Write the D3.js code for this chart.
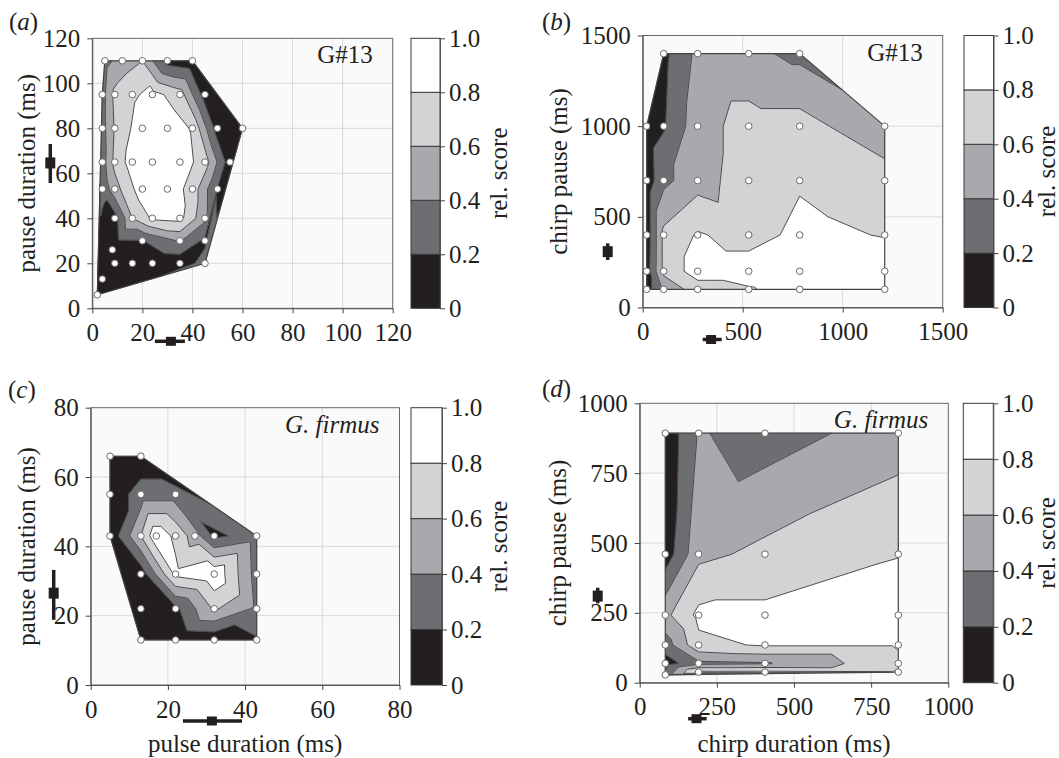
<!DOCTYPE html>
<html>
<head>
<meta charset="utf-8">
<script src="https://cdn.jsdelivr.net/npm/d3@7"></script>
<style>
  body { margin: 0; background: #fff; }
  svg text { font-family: "Liberation Serif", "Times New Roman", serif; fill: #231f20; }
</style>
</head>
<body>
<div id="chart"></div>
<script>
// Score bands (rel. score)
const bandEdges = [0.2, 0.4, 0.6, 0.8];
const bandColours = ["#231f20", "#6d6e71", "#a7a9ac", "#d1d3d4", "#ffffff"];
const scoreTicks = [0, 0.2, 0.4, 0.6, 0.8, 1.0];

// Panel a: G#13, pulse duration vs pause duration
const aPulse = [5, 12, 20, 30, 40,
  4, 9, 16, 24, 35, 45,
  4, 9, 20, 30, 40, 50, 60,
  4, 9, 16, 24, 35, 45, 55,
  4, 9, 20, 30, 40, 50,
  9, 16, 24, 35, 45,
  20, 35, 45,
  8,
  9, 16, 24, 35, 45,
  4, 2];
const aPause = [110, 110, 110, 110, 110,
  95, 95, 95, 95, 95, 95,
  80, 80, 80, 80, 80, 80, 80,
  65, 65, 65, 65, 65, 65, 65,
  53, 53, 53, 53, 53, 53,
  40, 40, 40, 40, 40,
  30, 30, 30,
  26,
  20, 20, 20, 20, 20,
  13, 6];
const aScore = [0.33, 0.5, 0.6, 0.12, 0.05,
  0.32, 0.65, 0.76, 0.87, 0.7, 0.1,
  0.32, 0.62, 0.93, 0.92, 0.78, 0.1, 0.05,
  0.3, 0.66, 0.9, 0.96, 0.92, 0.7, 0.08,
  0.25, 0.52, 0.92, 0.94, 0.72, 0.19,
  0.12, 0.6, 0.83, 0.86, 0.45,
  0.19, 0.42, 0.15,
  0.02,
  0.02, 0.02, 0.03, 0.05, 0.3,
  0.02, 0.05];
const aTicks = [0, 20, 40, 60, 80, 100, 120];
const aSongX = [31.4, 25, 37];   // mean, low, high
const aSongY = [64.6, 55.7, 73];

// Panel b: G#13, chirp duration vs chirp pause
const bChirp = [105, 275, 530, 785,
  20, 105, 275, 530, 785, 1210,
  20, 105, 275, 530, 785, 1210,
  20, 105, 275, 530, 785, 1210,
  20, 105, 275, 530, 785, 1210,
  20, 105, 275, 530, 785, 1210];
const bPause = [1400, 1400, 1400, 1400,
  1000, 1000, 1000, 1000, 1000, 1000,
  700, 700, 700, 700, 700, 700,
  400, 400, 400, 400, 400, 400,
  200, 200, 200, 200, 200, 200,
  100, 100, 100, 100, 100, 100];
const bScore = [0.15, 0.45, 0.45, 0.35,
  0.1, 0.18, 0.52, 0.68, 0.68, 0.45,
  0.08, 0.35, 0.52, 0.7, 0.78, 0.7,
  0.08, 0.65, 0.82, 0.72, 0.85, 0.79,
  0.1, 0.65, 0.9, 0.9, 0.95, 0.92,
  0.1, 0.45, 0.7, 0.78, 0.9, 0.9];
const bTicks = [0, 500, 1000, 1500];
const bSongX = [342, 300, 395];
const bSongY = [308, 262, 354];

// Panel c: G. firmus, pulse duration vs pause duration
const cPulse = [5, 13,
  5, 13, 22,
  5, 13, 17, 22, 27, 32, 43,
  13, 22, 32, 43,
  13, 22, 32, 43,
  13, 22, 32, 43];
const cPause = [66, 66,
  55, 55, 55,
  43, 43, 43, 43, 43, 43, 43,
  32, 32, 32, 32,
  22, 22, 22, 22,
  13, 13, 13, 13];
const cScore = [0.05, 0.05,
  0.05, 0.3, 0.3,
  0.05, 0.6, 0.95, 0.75, 0.5, 0.15, 0.3,
  0.08, 0.85, 0.96, 0.32,
  0.05, 0.15, 0.63, 0.36,
  0.02, 0.02, 0.05, 0.18];
const cTicks = [0, 20, 40, 60, 80];
const cSongX = [31.4, 23.9, 39.2];
const cSongY = [26.5, 18.8, 33.2];

// Panel d: G. firmus, chirp duration vs chirp pause
const dChirp = [83, 191, 406, 838,
  83, 191, 406, 838,
  83, 191, 406, 838,
  83, 191, 406, 838,
  83, 191, 406, 838,
  191, 406, 838,
  83];
const dPause = [893, 893, 893, 893,
  460, 460, 460, 460,
  242, 242, 242, 242,
  135, 135, 135, 135,
  69, 69, 69, 69,
  38, 38, 38,
  28];
const dScore = [0.05, 0.42, 0.3, 0.5,
  0.08, 0.55, 0.65, 0.79,
  0.55, 0.85, 0.85, 0.95,
  0.3, 0.75, 0.82, 0.82,
  0.1, 0.35, 0.38, 0.75,
  0.85, 0.85, 0.82,
  0.3];
const dTicks = [0, 250, 500, 750, 1000];
const dSongX = [184, 157, 217];
const dSongY = [310, 284, 340];

// Panel layout
const panels = [
  {letter: "a", species: "G#13", italic: false, xs: aPulse, ys: aPause, score: aScore,
   xTicks: aTicks, yTicks: aTicks, songX: aSongX, songY: aSongY,
   left: 92.3, right: 392.7, top: 38.3, bottom: 308.3, barX: 411, barW: 29,
   yTitle: "pause duration (ms)", yTitleX: 27, xTitle: null,
   labelX: 9, labelY: 30, markXOff: 33, markYOff: 42, scoreX: 499},
  {letter: "b", species: "G#13", italic: false, xs: bChirp, ys: bPause, score: bScore,
   xTicks: bTicks, yTicks: bTicks, songX: bSongX, songY: bSongY,
   left: 642.7, right: 942.7, top: 35.5, bottom: 307.5, barX: 964, barW: 29.5,
   yTitle: "chirp pause (ms)", yTitleX: 559, xTitle: null,
   labelX: 542, labelY: 30, markXOff: 32, markYOff: 35, scoreX: 1047},
  {letter: "c", species: "G. firmus", italic: true, xs: cPulse, ys: cPause, score: cScore,
   xTicks: cTicks, yTicks: cTicks, songX: cSongX, songY: cSongY,
   left: 90.7, right: 399.5, top: 407.7, bottom: 685, barX: 411, barW: 31,
   yTitle: "pause duration (ms)", yTitleX: 27, xTitle: "pulse duration (ms)",
   labelX: 8, labelY: 398, markXOff: 36, markYOff: 37, scoreX: 499},
  {letter: "d", species: "G. firmus", italic: true, xs: dChirp, ys: dPause, score: dScore,
   xTicks: dTicks, yTicks: dTicks, songX: dSongX, songY: dSongY,
   left: 639.7, right: 948.3, top: 403.3, bottom: 682.7, barX: 963.3, barW: 30,
   yTitle: "chirp pause (ms)", yTitleX: 558, xTitle: "chirp duration (ms)",
   labelX: 542, labelY: 397, markXOff: 36, markYOff: 42, scoreX: 1047}
];

const fontSize = 25;

const svg = d3.select("#chart").append("svg")
  .attr("width", 1059)
  .attr("height", 758);

// Keep the part of a polygon above (or below) a level, values linear along edges
function clipLevel(poly, level, above) {
  const out = [];
  for (let i = 0; i < poly.length; i++) {
    const a = poly[i], b = poly[(i + 1) % poly.length];
    const ina = above ? a.v >= level : a.v <= level;
    const inb = above ? b.v >= level : b.v <= level;
    if (ina) out.push(a);
    if (ina !== inb) {
      const t = (level - a.v) / (b.v - a.v);
      out.push({x: a.x + t * (b.x - a.x), y: a.y + t * (b.y - a.y), v: level});
    }
  }
  return out;
}

function styleAxis(sel) {
  sel.attr("font-size", fontSize).attr("font-family", "Liberation Serif, serif");
  sel.select(".domain").attr("stroke", "#555");
  sel.selectAll(".tick line").attr("stroke", "#444");
  sel.selectAll(".tick text").attr("fill", "#231f20");
}

function drawPanel(p) {
  const xMax = p.xTicks[p.xTicks.length - 1], yMax = p.yTicks[p.yTicks.length - 1];
  const x = d3.scaleLinear().domain([0, xMax]).range([p.left, p.right]);
  const y = d3.scaleLinear().domain([0, yMax]).range([p.bottom, p.top]);
  const g = svg.append("g").attr("class", "panel");

  // Plot background and grid
  g.append("rect")
    .attr("x", p.left).attr("y", p.top)
    .attr("width", p.right - p.left).attr("height", p.bottom - p.top)
    .attr("fill", "#fafafa");
  g.append("g").selectAll("line")
    .data(p.xTicks.filter(t => t > 0 && t < xMax))
    .join("line")
      .attr("x1", d => x(d)).attr("x2", d => x(d))
      .attr("y1", p.top).attr("y2", p.bottom)
      .attr("stroke", "#d9d9d9").attr("stroke-width", 1);
  g.append("g").selectAll("line")
    .data(p.yTicks.filter(t => t > 0 && t < yMax))
    .join("line")
      .attr("x1", p.left).attr("x2", p.right)
      .attr("y1", d => y(d)).attr("y2", d => y(d))
      .attr("stroke", "#d9d9d9").attr("stroke-width", 1);

  // Triangulate the measured points
  const pts = p.xs.map((d, i) => [x(d), y(p.ys[i])]);
  const delaunay = d3.Delaunay.from(pts);
  const tri = delaunay.triangles;

  const bandPaths = bandColours.map(() => []);
  const linePath = [];
  for (let t = 0; t < tri.length; t += 3) {
    const poly = [tri[t], tri[t + 1], tri[t + 2]]
      .map(i => ({x: pts[i][0], y: pts[i][1], v: p.score[i]}));
    bandColours.forEach((c, b) => {
      let piece = poly;
      if (b > 0) piece = clipLevel(piece, bandEdges[b - 1], true);
      if (b < bandEdges.length && piece.length) piece = clipLevel(piece, bandEdges[b], false);
      if (piece.length >= 3) {
        bandPaths[b].push("M" + piece.map(q => q.x.toFixed(2) + "," + q.y.toFixed(2)).join("L") + "Z");
      }
    });
    bandEdges.forEach(level => {
      const cross = [];
      for (let k = 0; k < 3; k++) {
        const a = poly[k], b = poly[(k + 1) % 3];
        if ((a.v >= level) !== (b.v >= level)) {
          const s = (level - a.v) / (b.v - a.v);
          cross.push([a.x + s * (b.x - a.x), a.y + s * (b.y - a.y)]);
        }
      }
      if (cross.length === 2) {
        linePath.push("M" + cross[0].join(",") + "L" + cross[1].join(","));
      }
    });
  }

  // Filled bands
  g.append("g").selectAll("path")
    .data(bandPaths)
    .join("path")
      .attr("d", d => d.join(""))
      .attr("fill", (d, i) => bandColours[i])
      .attr("stroke", (d, i) => bandColours[i])
      .attr("stroke-width", 0.6)
      .attr("stroke-linejoin", "round");

  // Contour lines
  g.append("path")
    .attr("d", linePath.join(""))
    .attr("fill", "none")
    .attr("stroke", "#4a4a4c")
    .attr("stroke-width", 1);

  // Hull outline
  g.append("path")
    .attr("d", delaunay.renderHull())
    .attr("fill", "none")
    .attr("stroke", "#444")
    .attr("stroke-width", 1.2);

  // Measured points
  g.append("g").selectAll("circle")
    .data(pts)
    .join("circle")
      .attr("cx", d => d[0]).attr("cy", d => d[1])
      .attr("r", 3.3)
      .attr("fill", "#fff")
      .attr("stroke", "#6a6a6a")
      .attr("stroke-width", 1);

  // Frame
  g.append("rect")
    .attr("x", p.left).attr("y", p.top)
    .attr("width", p.right - p.left).attr("height", p.bottom - p.top)
    .attr("fill", "none").attr("stroke", "#666").attr("stroke-width", 1);

  // Axes
  g.append("g")
    .attr("transform", `translate(0,${p.bottom})`)
    .call(d3.axisBottom(x).tickValues(p.xTicks).tickFormat(d3.format("d"))
      .tickSize(5).tickSizeOuter(0).tickPadding(10))
    .call(styleAxis);
  g.append("g")
    .attr("transform", `translate(${p.left},0)`)
    .call(d3.axisLeft(y).tickValues(p.yTicks).tickFormat(d3.format("d"))
      .tickSize(5).tickSizeOuter(0).tickPadding(7))
    .call(styleAxis);

  // Natural song markers (mean and range)
  const mx = p.bottom + p.markXOff;
  g.append("line")
    .attr("x1", x(p.songX[1])).attr("x2", x(p.songX[2]))
    .attr("y1", mx).attr("y2", mx)
    .attr("stroke", "#231f20").attr("stroke-width", 3.5);
  g.append("rect")
    .attr("x", x(p.songX[0]) - 5).attr("y", mx - 4.5)
    .attr("width", 10).attr("height", 9)
    .attr("fill", "#231f20");
  const my = p.left - p.markYOff;
  g.append("line")
    .attr("x1", my).attr("x2", my)
    .attr("y1", y(p.songY[1])).attr("y2", y(p.songY[2]))
    .attr("stroke", "#231f20").attr("stroke-width", 3.5);
  g.append("rect")
    .attr("x", my - 5).attr("y", y(p.songY[0]) - 5.5)
    .attr("width", 10).attr("height", 11)
    .attr("fill", "#231f20");

  // Species label
  g.append("text")
    .attr("x", p.right - 20).attr("y", p.top + 25)
    .attr("text-anchor", "end")
    .attr("font-size", fontSize)
    .attr("font-style", p.italic ? "italic" : "normal")
    .text(p.species);

  // Panel letter
  const lab = g.append("text")
    .attr("x", p.labelX).attr("y", p.labelY)
    .attr("font-size", fontSize);
  lab.append("tspan").text("(");
  lab.append("tspan").attr("font-style", "italic").text(p.letter);
  lab.append("tspan").text(")");

  // Axis titles
  g.append("text")
    .attr("transform", `translate(${p.yTitleX},${(p.top + p.bottom) / 2}) rotate(-90)`)
    .attr("text-anchor", "middle")
    .attr("dy", "0.32em")
    .attr("font-size", fontSize)
    .text(p.yTitle);
  if (p.xTitle) {
    g.append("text")
      .attr("x", (p.left + p.right) / 2).attr("y", 752)
      .attr("text-anchor", "middle")
      .attr("font-size", fontSize)
      .text(p.xTitle);
  }

  // Colour bar
  const cb = d3.scaleLinear().domain([0, 1]).range([p.bottom, p.top]);
  const lows = [0, ...bandEdges], highs = [...bandEdges, 1];
  g.append("g").selectAll("rect")
    .data(bandColours)
    .join("rect")
      .attr("x", p.barX)
      .attr("y", (d, i) => cb(highs[i]))
      .attr("width", p.barW)
      .attr("height", (d, i) => cb(lows[i]) - cb(highs[i]))
      .attr("fill", d => d)
      .attr("stroke", "#3a3a3a")
      .attr("stroke-width", 1);
  g.append("g")
    .attr("transform", `translate(${p.barX + p.barW},0)`)
    .call(d3.axisRight(cb).tickValues(scoreTicks)
      .tickFormat(d => d === 0 ? "0" : d3.format(".1f")(d))
      .tickSize(5).tickSizeOuter(0).tickPadding(4))
    .call(styleAxis);
  g.append("text")
    .attr("transform", `translate(${p.scoreX},${(p.top + p.bottom) / 2}) rotate(-90)`)
    .attr("text-anchor", "middle")
    .attr("dy", "0.32em")
    .attr("font-size", fontSize)
    .text("rel. score");
}

panels.forEach(drawPanel);
</script>
</body>
</html>
